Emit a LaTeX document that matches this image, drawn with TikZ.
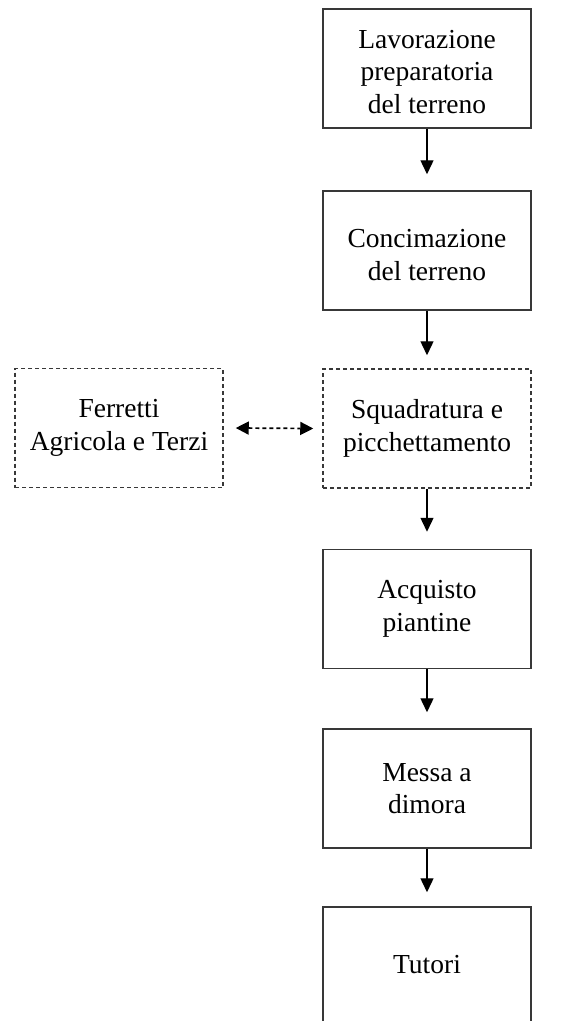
\documentclass[tikz,border=0pt]{standalone}
\usepackage{fontspec}
\setmainfont{Liberation Serif}
\usetikzlibrary{arrows.meta}
\begin{document}
\begin{tikzpicture}[x=1pt,y=-1pt,
  box/.style={draw=black!78,line width=1.5pt,minimum width=208pt,minimum height=119pt,
    align=center,inner sep=0pt,text=black,
    font=\fontsize{27.5pt}{32.5pt}\selectfont},
  dbox/.style={box,dash pattern=on 4pt off 3pt},
  label/.style={text=black,font=\fontsize{27.5pt}{32.5pt}\selectfont},
  flow/.style={draw=black,line width=1.4pt,-{Triangle[length=14pt,width=13pt]}},
  link/.style={draw=black,line width=1.7pt,dash pattern=on 4pt off 3pt,
    {Triangle[length=13pt,width=13pt]}-{Triangle[length=13pt,width=13pt]}}]
\useasboundingbox (0,0) rectangle (584,1021);
\clip (0,0) rectangle (584,1021);
% main chain of steps
\node[box] (lav) at (427,68.5) {};
\node[label,align=center] (lavl) at (427,72) {Lavorazione\\preparatoria\\del terreno};
\node[box] (con) at (427,250.5) {};
\node[label,align=center] (conl) at (427,255) {Concimazione\\del terreno};
\node[dbox] (squ) at (427,428.5) {Squadratura e\\picchettamento};
\node[dbox] (fer) at (119,428) {Ferretti\\Agricola e Terzi};
\node[box] (acq) at (427,609) {Acquisto\\piantine};
\node[box] (mes) at (427,788.5) {Messa a\\dimora};
\node[box,minimum height=160pt] (tut) at (427,987) {};
\node[label] (tutl) at (427,965) {Tutori};
% connectors
\draw[flow] (lav.south) -- ([yshift=16pt]con.north);
\draw[flow] (con.south) -- ([yshift=13pt]squ.north);
\draw[flow] (squ.south) -- ([yshift=17pt]acq.north);
\draw[flow] (acq.south) -- ([yshift=16pt]mes.north);
\draw[flow] (mes.south) -- ([yshift=14pt]tut.north);
\draw[link] ([xshift=12pt]fer.east) -- ([xshift=-9pt]squ.west);
\end{tikzpicture}
\end{document}
